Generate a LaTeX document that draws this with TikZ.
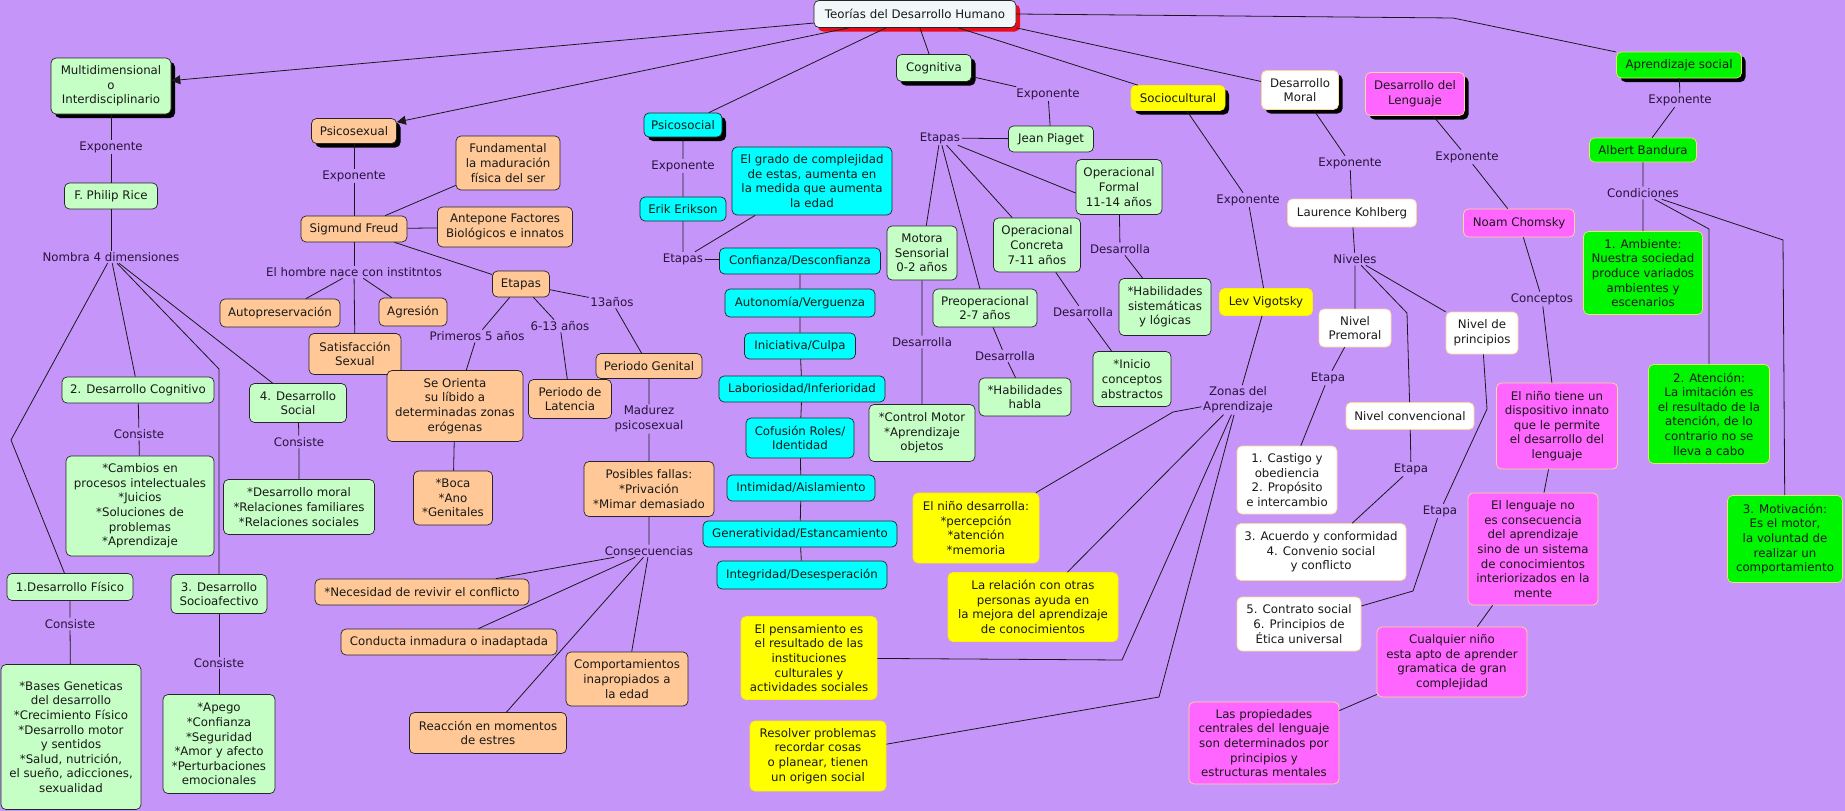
\documentclass[tikz,border=0pt]{standalone}
\usepackage{fontspec}
\setmainfont{DejaVu Sans}
\usepackage{xcolor}
\definecolor{bgpurple}{RGB}{197,149,250}
\definecolor{mint}{RGB}{198,255,198}
\definecolor{peach}{RGB}{255,200,150}
\definecolor{aqua}{RGB}{0,255,255}
\definecolor{lemon}{RGB}{255,255,0}
\definecolor{orchid}{RGB}{255,102,255}
\definecolor{lime}{RGB}{0,245,0}
\definecolor{sand}{RGB}{255,214,150}
\definecolor{limeedge}{RGB}{225,240,90}
\definecolor{cloud}{RGB}{242,248,250}
\definecolor{shadowred}{RGB}{235,10,25}
\definecolor{labeltext}{RGB}{40,20,60}
\usepackage{tikz}
\usetikzlibrary{arrows.meta, shadows}

\begin{document}
\begin{tikzpicture}[
    x=1pt, y=-1pt,
    font=\fontsize{11.8}{14.6}\selectfont,
    boxsize/.style 2 args={minimum width=#1pt, minimum height=#2pt},
    conceptnode/.style={rectangle, rounded corners=5pt, draw=black!85, line width=0.7pt, align=center, inner sep=1.5pt, text=black!90},
    greennode/.style={conceptnode, fill=mint},
    orangenode/.style={conceptnode, fill=peach},
    cyannode/.style={conceptnode, fill=aqua},
    yellownode/.style={conceptnode, fill=lemon, draw=lemon!85!orange},
    whitenode/.style={conceptnode, fill=white, draw=sand},
    pinknode/.style={conceptnode, fill=orchid, draw=sand},
    limenode/.style={conceptnode, fill=lime, draw=limeedge},
    topnode/.style={general shadow={fill=black, shadow xshift=4pt, shadow yshift=-4pt}},
    rootnode/.style={conceptnode, fill=cloud, general shadow={fill=shadowred, shadow xshift=4pt, shadow yshift=-4pt}},
    linklabel/.style={inner sep=1.5pt, align=center, text=labeltext},
    link/.style={draw=black!90, line width=0.8pt},
    tip/.style={-{Triangle[length=9pt,width=9pt]}}
  ]

  \fill[bgpurple] (0,0) rectangle (1845,811);
  \useasboundingbox (0,0) rectangle (1845,811);

  \node (teorias) [rootnode, boxsize={202}{27}] at (915,14) {Teorías del Desarrollo Humano};

  % Multidimensional
  \node (multi) [greennode, topnode, boxsize={120}{56}] at (111,86) {Multidimensional\\o\\Interdisciplinario};
  \node (expMulti) [linklabel] at (111,147) {Exponente};
  \node (rice) [greennode, boxsize={93}{26}] at (111,196) {F. Philip Rice};
  \node (nombra) [linklabel] at (111,257) {Nombra 4 dimensiones};
  \node (cogn2) [greennode, boxsize={152}{26}] at (138,390) {2. Desarrollo Cognitivo};
  \node (consC) [linklabel] at (139,434) {Consiste};
  \node (cambios) [greennode, boxsize={148}{100}] at (140,506) {*Cambios en\\procesos intelectuales\\*Juicios\\*Soluciones de\\problemas\\*Aprendizaje};
  \node (social4) [greennode, boxsize={97}{39}] at (298,403) {4. Desarrollo\\Social};
  \node (consS) [linklabel] at (299,442) {Consiste};
  \node (sociales) [greennode, boxsize={151}{55}] at (299,507) {*Desarrollo moral\\*Relaciones familiares\\*Relaciones sociales};
  \node (fisico) [greennode, boxsize={126}{27}] at (70,587) {1.Desarrollo Físico};
  \node (consF) [linklabel] at (70,624) {Consiste};
  \node (bases) [greennode, boxsize={140}{145}] at (71,737) {*Bases Geneticas\\del desarrollo\\*Crecimiento Físico\\*Desarrollo motor\\y sentidos\\*Salud, nutrición,\\el sueño, adicciones,\\sexualidad};
  \node (socioaf) [greennode, boxsize={96}{39}] at (219,594) {3. Desarrollo\\Socioafectivo};
  \node (consA) [linklabel] at (219,663) {Consiste};
  \node (apego) [greennode, boxsize={112}{99}] at (219,744) {*Apego\\*Confianza\\*Seguridad\\*Amor y afecto\\*Perturbaciones\\emocionales};
  \coordinate (bendFis) at (11,440);
  \coordinate (bendSoc) at (219,369);

  % Psicosexual
  \node (psicosex) [orangenode, topnode, boxsize={85}{25}] at (354,131) {Psicosexual};
  \node (expFreud) [linklabel] at (354,176) {Exponente};
  \node (freud) [orangenode, boxsize={106}{26}] at (354,229) {Sigmund Freud};
  \node (fund) [orangenode, boxsize={104}{54}] at (508,163) {Fundamental\\la maduración\\física del ser};
  \node (antep) [orangenode, boxsize={135}{40}] at (505,227) {Antepone Factores\\Biológicos e innatos};
  \node (etapasF) [orangenode, boxsize={57}{26}] at (521,284) {Etapas};
  \node (hombre) [linklabel] at (354,272) {El hombre nace con institntos};
  \node (autop) [orangenode, boxsize={120}{28}] at (280,313) {Autopreservación};
  \node (satisf) [orangenode, boxsize={92}{41}] at (355,354) {Satisfacción\\Sexual};
  \node (agres) [orangenode, boxsize={68}{28}] at (413,312) {Agresión};
  \node (primeros) [linklabel] at (477,336) {Primeros 5 años};
  \node (seis) [linklabel] at (560,326) {6-13 años};
  \node (trece) [linklabel] at (612,302) {13años};
  \node (orienta) [orangenode, boxsize={136}{71}] at (455,406) {Se Orienta\\su líbido a\\determinadas zonas\\erógenas};
  \node (boca) [orangenode, boxsize={79}{54}] at (453,498) {*Boca\\*Ano\\*Genitales};
  \node (latencia) [orangenode, boxsize={83}{39}] at (570,399) {Periodo de\\Latencia};
  \node (genital) [orangenode, boxsize={106}{25}] at (649,366) {Periodo Genital};
  \node (madurez) [linklabel] at (649,419) {Madurez\\psicosexual};
  \node (posibles) [orangenode, boxsize={130}{55}] at (649,489) {Posibles fallas:\\*Privación\\*Mimar demasiado};
  \node (consec) [linklabel] at (649,551) {Consecuencias};
  \node (necesidad) [orangenode, boxsize={214}{26}] at (422,592) {*Necesidad de revivir el conflicto};
  \node (conducta) [orangenode, boxsize={216}{26}] at (449,642) {Conducta inmadura o inadaptada};
  \node (reaccion) [orangenode, boxsize={157}{41}] at (488,733) {Reacción en momentos\\de estres};
  \node (comport) [orangenode, boxsize={122}{54}] at (627,679) {Comportamientos\\inapropiados a\\la edad};

  % Psicosocial
  \node (psicosoc) [cyannode, topnode, boxsize={78}{24}] at (683,125) {Psicosocial};
  \node (expErik) [linklabel] at (683,166) {Exponente};
  \node (erik) [cyannode, boxsize={86}{24}] at (683,209) {Erik Erikson};
  \node (grado) [cyannode, boxsize={160}{68}] at (812,181) {El grado de complejidad\\de estas, aumenta en\\la medida que aumenta\\la edad};
  \node (etapasE) [linklabel] at (683,259) {Etapas};
  \node (conf) [cyannode, boxsize={161}{26}] at (800,261) {Confianza/Desconfianza};
  \node (auton) [cyannode, boxsize={150}{28}] at (800,303) {Autonomía/Verguenza};
  \node (inic) [cyannode, boxsize={111}{26}] at (800,346) {Iniciativa/Culpa};
  \node (labor) [cyannode, boxsize={166}{26}] at (802,389) {Laboriosidad/Inferioridad};
  \node (cofus) [cyannode, boxsize={108}{40}] at (800,438) {Cofusión Roles/\\Identidad};
  \node (intim) [cyannode, boxsize={148}{26}] at (801,488) {Intimidad/Aislamiento};
  \node (gener) [cyannode, boxsize={194}{26}] at (800,534) {Generatividad/Estancamiento};
  \node (integ) [cyannode, boxsize={170}{28}] at (802,575) {Integridad/Desesperación};

  % Cognitiva
  \node (cognit) [greennode, topnode, boxsize={75}{27}] at (934,68) {Cognitiva};
  \node (expPiaget) [linklabel] at (1048,94) {Exponente};
  \node (piaget) [greennode, boxsize={85}{26}] at (1051,139) {Jean Piaget};
  \node (etapasP) [linklabel] at (940,138) {Etapas};
  \node (motora) [greennode, boxsize={70}{54}] at (922,253) {Motora\\Sensorial\\0-2 años};
  \node (desM) [linklabel] at (922,342) {Desarrolla};
  \node (control) [greennode, boxsize={106}{57}] at (922,433) {*Control Motor\\*Aprendizaje\\objetos};
  \node (preop) [greennode, boxsize={104}{38}] at (985,308) {Preoperacional\\2-7 años};
  \node (desP) [linklabel] at (1005,356) {Desarrolla};
  \node (habla) [greennode, boxsize={92}{38}] at (1025,397) {*Habilidades\\habla};
  \node (concreta) [greennode, boxsize={87}{54}] at (1037,245) {Operacional\\Concreta\\7-11 años};
  \node (desC) [linklabel] at (1083,312) {Desarrolla};
  \node (inicio) [greennode, boxsize={78}{55}] at (1132,379) {*Inicio\\conceptos\\abstractos};
  \node (formal) [greennode, boxsize={86}{55}] at (1119,187) {Operacional\\Formal\\11-14 años};
  \node (desF) [linklabel] at (1120,249) {Desarrolla};
  \node (sistem) [greennode, boxsize={92}{57}] at (1165,307) {*Habilidades\\sistemáticas\\y lógicas};

  % Sociocultural
  \node (sociocult) [yellownode, topnode, boxsize={94}{25}] at (1178,98) {Sociocultural};
  \node (expLev) [linklabel] at (1248,200) {Exponente};
  \node (lev) [yellownode, boxsize={93}{27}] at (1266,302) {Lev Vigotsky};
  \node (zonas) [linklabel] at (1238,400) {Zonas del\\Aprendizaje};
  \node (nino) [yellownode, boxsize={126}{70}] at (976,528) {El niño desarrolla:\\*percepción\\*atención\\*memoria};
  \node (relacion) [yellownode, boxsize={170}{69}] at (1033,607) {La relación con otras\\personas ayuda en\\la mejora del aprendizaje\\de conocimientos};
  \node (pensam) [yellownode, boxsize={136}{83}] at (809,658) {El pensamiento es\\el resultado de las\\instituciones\\culturales y\\actividades sociales};
  \node (resolver) [yellownode, boxsize={136}{70}] at (818,756) {Resolver problemas\\recordar cosas\\o planear, tienen\\un origen social};
  \coordinate (bendNino) at (1173,412);
  \coordinate (bendPens) at (1122,660);
  \coordinate (bendRes) at (1159,697);

  % Desarrollo Moral
  \node (moral) [whitenode, topnode, boxsize={77}{39}] at (1300,90) {Desarrollo\\Moral};
  \node (expKohl) [linklabel] at (1350,163) {Exponente};
  \node (kohl) [whitenode, boxsize={129}{28}] at (1352,213) {Laurence Kohlberg};
  \node (niveles) [linklabel] at (1355,259) {Niveles};
  \node (premoral) [whitenode, boxsize={72}{38}] at (1355,328) {Nivel\\Premoral};
  \node (etapa1) [linklabel] at (1328,378) {Etapa};
  \node (castigo) [whitenode, boxsize={100}{68}] at (1287,480) {1. Castigo y\\obediencia\\2. Propósito\\e intercambio};
  \node (convenc) [whitenode, boxsize={128}{27}] at (1410,416) {Nivel convencional};
  \node (etapa2) [linklabel] at (1411,469) {Etapa};
  \node (acuerdo) [whitenode, boxsize={170}{57}] at (1321,552) {3. Acuerdo y conformidad\\4. Convenio social\\y conflicto};
  \node (principios) [whitenode, boxsize={72}{42}] at (1482,333) {Nivel de\\principios};
  \node (etapa3) [linklabel] at (1440,511) {Etapa};
  \node (contrato) [whitenode, boxsize={124}{54}] at (1299,624) {5. Contrato social\\6. Principios de\\Ética universal};
  \coordinate (bendConv) at (1407,313);
  \coordinate (bendPrin) at (1487,409);
  \coordinate (bendCont) at (1413,591);

  % Desarrollo del Lenguaje
  \node (lenguaje) [pinknode, topnode, boxsize={99}{43}] at (1415,94) {Desarrollo del\\Lenguaje};
  \node (expChom) [linklabel] at (1467,157) {Exponente};
  \node (chomsky) [pinknode, boxsize={111}{28}] at (1519,223) {Noam Chomsky};
  \node (conceptos) [linklabel] at (1542,299) {Conceptos};
  \node (ninotiene) [pinknode, boxsize={121}{86}] at (1557,426) {El niño tiene un\\dispositivo innato\\que le permite\\el desarrollo del\\lenguaje};
  \node (lengno) [pinknode, boxsize={130}{112}] at (1533,549) {El lenguaje no\\es consecuencia\\del aprendizaje\\sino de un sistema\\de conocimientos\\interiorizados en la\\mente};
  \node (cualquier) [pinknode, boxsize={150}{70}] at (1452,662) {Cualquier niño\\esta apto de aprender\\gramatica de gran\\complejidad};
  \node (propied) [pinknode, boxsize={150}{82}] at (1264,743) {Las propiedades\\centrales del lenguaje\\son determinados por\\principios y\\estructuras mentales};

  % Aprendizaje social
  \node (apsoc) [limenode, topnode, boxsize={125}{26}] at (1679,65) {Aprendizaje social};
  \node (expBand) [linklabel] at (1680,100) {Exponente};
  \node (albert) [limenode, boxsize={107}{24}] at (1643,150) {Albert Bandura};
  \node (condic) [linklabel] at (1643,193) {Condiciones};
  \node (ambiente) [limenode, boxsize={119}{83}] at (1643,273) {1. Ambiente:\\Nuestra sociedad\\produce variados\\ambientes y\\escenarios};
  \node (atencion) [limenode, boxsize={121}{99}] at (1709,414) {2. Atención:\\La imitación es\\el resultado de la\\atención, de lo\\contrario no se\\lleva a cabo};
  \node (motiv) [limenode, boxsize={115}{87}] at (1785,539) {3. Motivación:\\Es el motor,\\la voluntad de\\realizar un\\comportamiento};
  \coordinate (bendApS) at (1453,18);
  \coordinate (bendAten) at (1709,229);
  \coordinate (bendMot) at (1783,240);

  % connectors
  \draw[link, tip] (teorias) -- (multi);
  \draw[link, tip] (teorias) -- (psicosex);
  \draw[link] (teorias) -- (psicosoc);
  \draw[link] (teorias) -- (cognit);
  \draw[link] (teorias) -- (sociocult);
  \draw[link] (teorias.south east) -- (moral);
  \draw[link] (teorias.east) -- (bendApS) -- (apsoc);

  \draw[link] (multi) -- (expMulti) -- (rice) -- (nombra);
  \draw[link] (nombra) -- (bendFis) -- (fisico);
  \draw[link] (nombra) -- (cogn2);
  \draw[link] (nombra) -- (bendSoc) -- (socioaf);
  \draw[link] (nombra) -- (social4);
  \draw[link] (cogn2) -- (consC) -- (cambios);
  \draw[link] (social4) -- (consS) -- (sociales);
  \draw[link] (fisico) -- (consF) -- (bases);
  \draw[link] (socioaf) -- (consA) -- (apego);

  \draw[link] (psicosex) -- (expFreud) -- (freud);
  \draw[link] (freud) -- (fund);
  \draw[link] (freud) -- (antep);
  \draw[link] (freud) -- (etapasF);
  \draw[link] (freud) -- (hombre);
  \draw[link] (hombre) -- (autop);
  \draw[link] (hombre) -- (satisf);
  \draw[link] (hombre) -- (agres);
  \draw[link] (etapasF) -- (primeros) -- (orienta) -- (boca);
  \draw[link] (etapasF) -- (seis) -- (latencia);
  \draw[link] (etapasF) -- (trece) -- (genital) -- (madurez) -- (posibles) -- (consec);
  \draw[link] (consec) -- (necesidad);
  \draw[link] (consec) -- (conducta);
  \draw[link] (consec) -- (reaccion);
  \draw[link] (consec) -- (comport);

  \draw[link] (psicosoc) -- (expErik) -- (erik) -- (etapasE) -- (conf) -- (auton) -- (inic) -- (labor) -- (cofus) -- (intim) -- (gener) -- (integ);
  \draw[link] (etapasE) -- (grado);

  \draw[link] (cognit) -- (expPiaget) -- (piaget) -- (etapasP);
  \draw[link] (etapasP) -- (motora) -- (desM) -- (control);
  \draw[link] (etapasP) -- (preop) -- (desP) -- (habla);
  \draw[link] (etapasP) -- (concreta) -- (desC) -- (inicio);
  \draw[link] (etapasP) -- ([yshift=-6pt]formal.west);
  \draw[link] (formal) -- (desF) -- (sistem);

  \draw[link] (sociocult) -- (expLev) -- (lev) -- (zonas);
  \draw[link] (zonas) -- (bendNino) -- (nino);
  \draw[link] (zonas) -- (relacion);
  \draw[link] (zonas) -- (bendPens) -- (pensam);
  \draw[link] (zonas) -- (bendRes) -- (resolver);

  \draw[link] (moral) -- (expKohl) -- (kohl) -- (niveles) -- (premoral) -- (etapa1) -- (castigo);
  \draw[link] (niveles) -- (bendConv) -- (convenc) -- (etapa2) -- (acuerdo);
  \draw[link] (niveles) -- (principios) -- (bendPrin) -- (etapa3) -- (bendCont) -- (contrato);

  \draw[link] (lenguaje) -- (expChom) -- (chomsky) -- (conceptos) -- (ninotiene) -- (lengno) -- (cualquier) -- (propied);

  \draw[link] (apsoc) -- (expBand) -- (albert) -- (condic) -- (ambiente);
  \draw[link] (condic) -- (bendAten) -- (atencion);
  \draw[link] (condic) -- (bendMot) -- (motiv);

\end{tikzpicture}
\end{document}
